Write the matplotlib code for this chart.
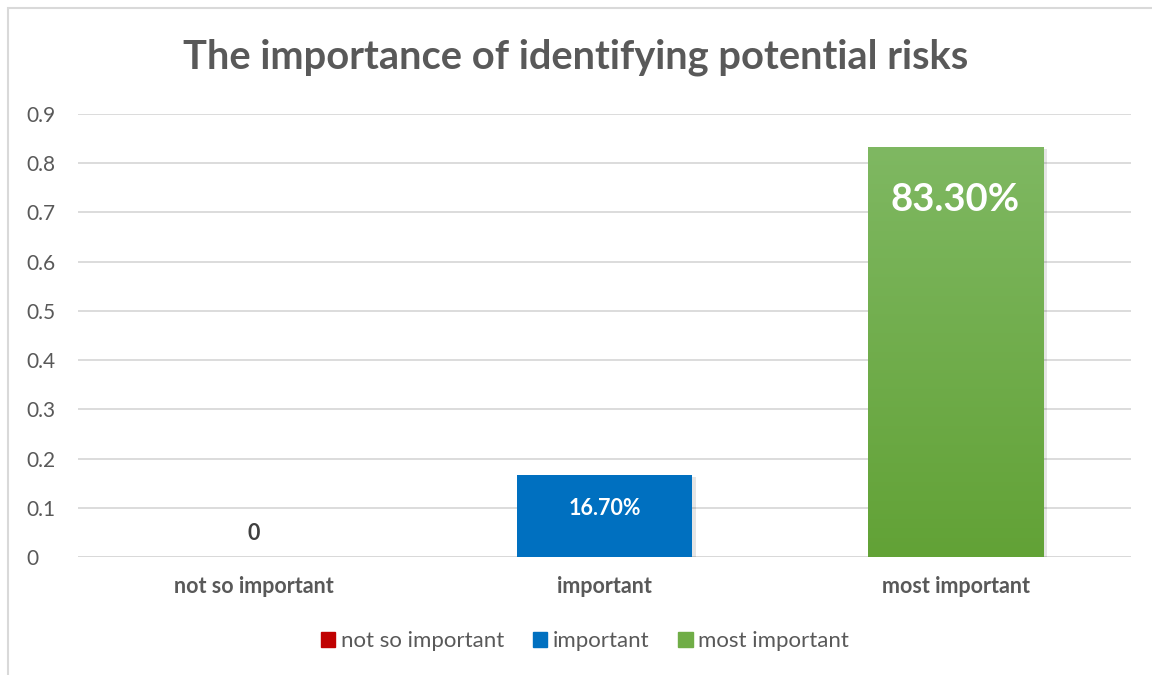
import matplotlib.pyplot as plt
import numpy as np
from matplotlib.patches import Rectangle, Patch
from matplotlib.colors import LinearSegmentedColormap

categories = ["not so important", "important", "most important"]
values = [0.0, 0.167, 0.833]
labels = ["0", "16.70%", "83.30%"]
colors = ["#c00000", "#0070c0", "#70ad47"]
yticks = [0, 0.1, 0.2, 0.3, 0.4, 0.5, 0.6, 0.7, 0.8, 0.9]

grey = "#595959"
plt.rcParams['font.family'] = ['Lato', 'DejaVu Sans']

fig = plt.figure(figsize=(11.52, 6.75), dpi=100)
ax = fig.add_axes([78/1152, 1-557/675, 1053/1152, (557-114)/675])

x = np.arange(len(categories))
bars = ax.bar(x, values, width=0.5, color=colors, zorder=3)

# soft shadow behind the bars
for b in bars:
    if b.get_height() > 0:
        ax.add_patch(Rectangle((b.get_x()+0.01, -0.004), b.get_width(), b.get_height(),
                               color="#000000", alpha=0.1, zorder=2, lw=0))

# gradient on the green bar
gb = bars[2]
grad = np.linspace(0, 1, 256).reshape(-1, 1)
cmap = LinearSegmentedColormap.from_list("g", ["#62a236", "#7fb862"])
im = ax.imshow(grad, cmap=cmap, origin="lower", aspect="auto", zorder=3.5,
               extent=[gb.get_x(), gb.get_x()+gb.get_width(), 0, gb.get_height()])
im.set_clip_path(gb)

ax.set_xlim(-0.5, 2.5)
ax.set_ylim(0, 0.9)
ax.set_yticks(yticks)
ax.set_yticklabels([f"{t:g}" for t in yticks])
ax.set_xticks(x)
ax.set_xticklabels(categories, fontweight="bold")
ax.tick_params(axis="both", length=0, colors=grey)
ax.tick_params(axis="x", pad=14, labelsize=15.5)
ax.tick_params(axis="y", pad=37, labelsize=15)
for t in ax.get_yticklabels():
    t.set_horizontalalignment("left")
ax.grid(axis="y", color="#d9d9d9", lw=1.3, zorder=0)
for s in ax.spines.values():
    s.set_visible(False)
ax.axhline(0, color="#d9d9d9", lw=1.3, zorder=1)

# data labels
ax.text(x[0], 0.048, labels[0], ha="center", va="center", fontsize=15.5,
        fontweight="bold", color="#404040", zorder=5)
ax.text(x[1], 0.098, labels[1], ha="center", va="center", fontsize=15.5,
        fontweight="bold", color="white", zorder=5)
ax.text(x[2], 0.726, labels[2], ha="center", va="center", fontsize=27.5,
        fontweight="bold", color="white", zorder=5)

fig.text(0.5, 1-57/675, "The importance of identifying potential risks", ha="center",
         va="center", fontsize=28.7, fontweight="bold", color=grey)

handles = [Patch(color=c) for c in colors]
fig.legend(handles, categories, loc="center", bbox_to_anchor=(585/1152, 1-641/675),
           ncol=3, frameon=False, fontsize=16, labelcolor=grey, handlelength=0.65,
           handleheight=0.65, handletextpad=0.25, columnspacing=1.3)

fig.add_artist(Rectangle((8/1152, -0.05), 1.1, 1-8/675+0.05, transform=fig.transFigure,
                         fill=False, ec="#d9d9d9", lw=1.5))

fig.savefig("out.png", dpi=100)
